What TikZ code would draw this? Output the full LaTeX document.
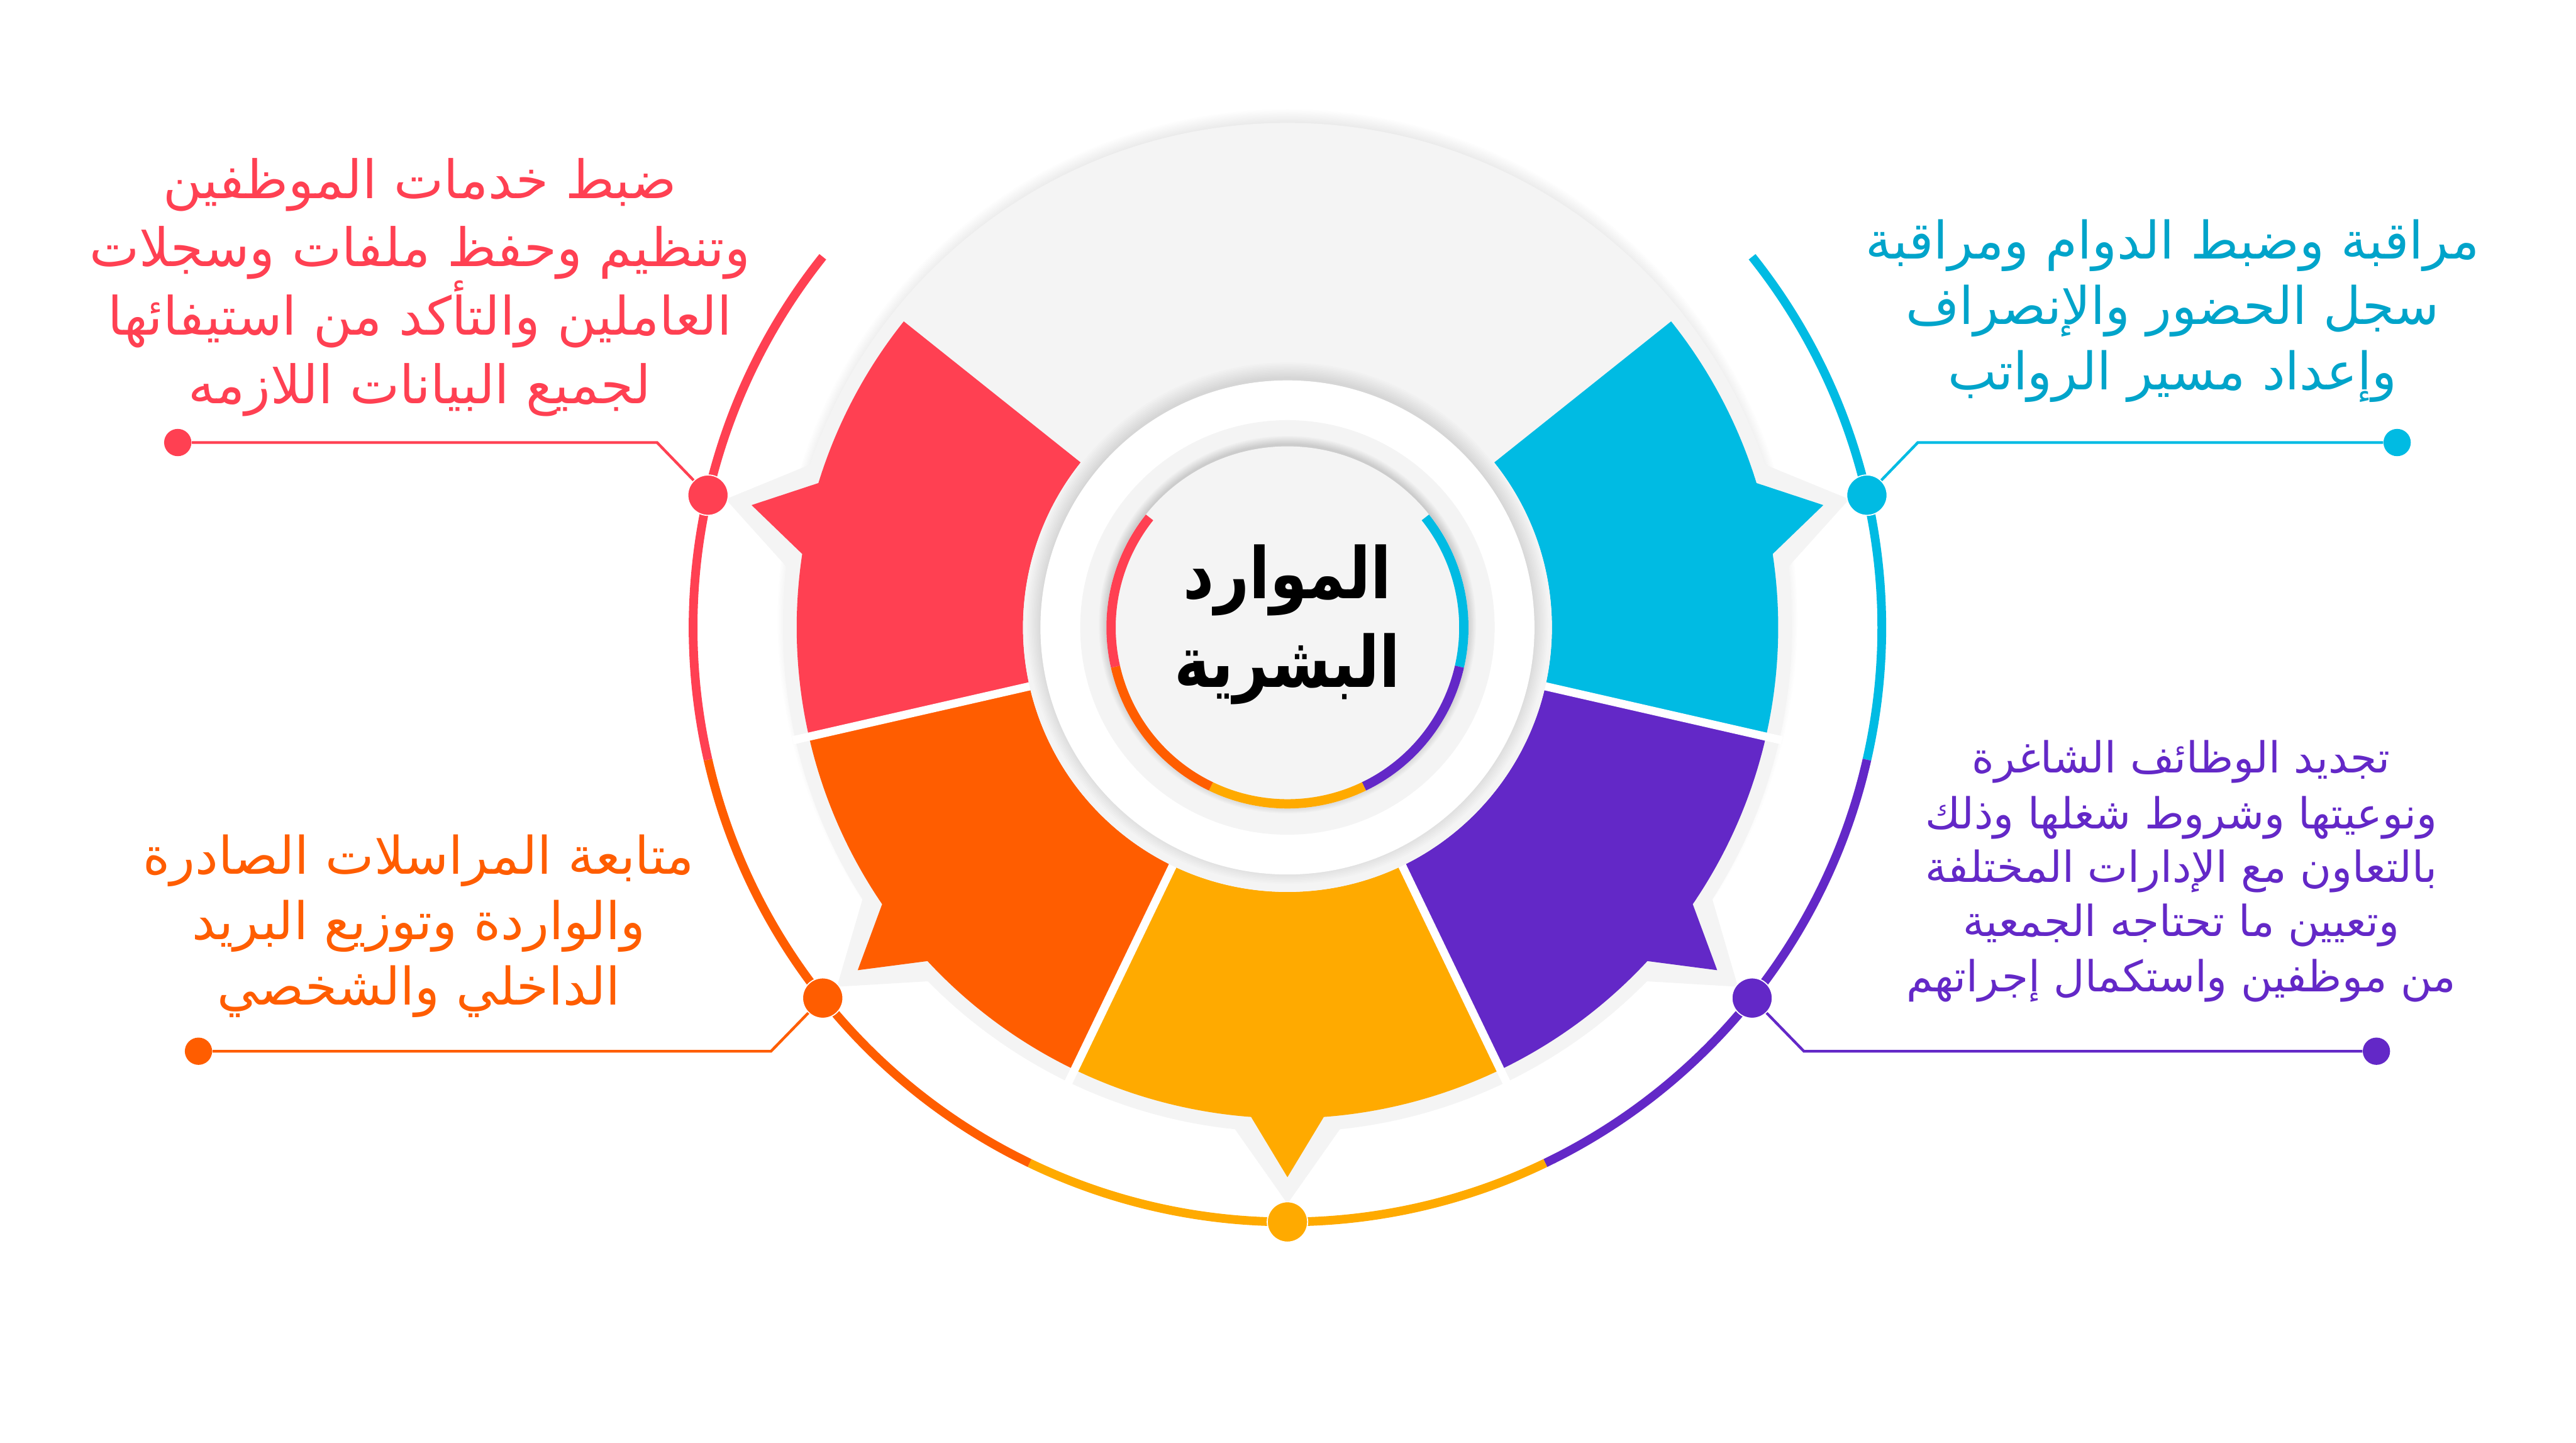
\documentclass[tikz,border=0pt]{standalone}
\usepackage{fontspec}
\TeXXeTstate=1
\newfontfamily\arabicfont[Script=Arabic]{DejaVu Sans}
\newfontfamily\arabictitle[Script=Arabic, FakeStretch=0.85]{DejaVu Sans Bold}
\newcommand{\AR}[1]{\beginR #1\endR}
\definecolor{cred}{HTML}{FF4052}
\definecolor{corange}{HTML}{FF5D00}
\definecolor{cyellow}{HTML}{FFAA00}
\definecolor{cpurple}{HTML}{6328C7}
\definecolor{ccyan}{HTML}{00BBE3}
\definecolor{ccyantext}{HTML}{00A4CA}
\definecolor{cgray}{HTML}{F4F4F4}
\tikzset{
  txt/.style={anchor=base, inner sep=0pt, font=\arabicfont\fontsize{27}{30}\selectfont},
  redtxt/.style={anchor=base, inner sep=0pt, font=\arabicfont\fontsize{27.6}{30}\selectfont},
  smalltxt/.style={anchor=base, inner sep=0pt, font=\arabicfont\fontsize{22.3}{25}\selectfont},
  titletxt/.style={anchor=base, inner sep=0pt, text=black, font=\arabictitle\fontsize{37}{40}\selectfont},
  bigdot/.style={circle, inner sep=0pt, minimum size=0.74cm, draw=white, line width=0.02cm},
  smalldot/.style={circle, inner sep=0pt, minimum size=0.5cm},
  conn/.style={line width=0.05cm},
  outerarc/.style={line width=0.16cm},
  innerarc/.style={line width=0.17cm},
  tailrim/.style={cgray, line width=0.56cm, line join=miter},
  separator/.style={white, line width=0.15cm}
}
\begin{document}
\begin{tikzpicture}
\useasboundingbox (-23.61,-14.946) rectangle (23.63,11.504);
\fill[white] (-23.61,-14.946) rectangle (23.63,11.504);

% outer disc shadow
\foreach \i in {1,...,12} \fill[black,opacity=0.009] (0,0.15) circle ({9.05+0.025*\i});
\fill[cgray] (0,0) circle (9.25);

% gray rims around the tails
\foreach \m in {12.857,-38.571,-90,-141.429,-192.857}
  \draw[tailrim] ({\m-5}:9.0) -- (\m:10.08) -- ({\m+5}:9.0);

% coloured segments
\foreach \a/\b/\m/\c in {-12.857/38.571/12.857/ccyan, -64.286/-12.857/-38.571/cpurple, -115.714/-64.286/-90/cyellow, -167.143/-115.714/-141.429/corange, -218.571/-167.143/-192.857/cred}
  \fill[\c] (\a:4.85) -- (\a:9.0) arc[start angle=\a, end angle={\m-4.25}, radius=9.0]
    -- (\m:10.08) -- ({\m+4.25}:9.0) arc[start angle={\m+4.25}, end angle=\b, radius=9.0]
    -- (\b:4.85) arc[start angle=\b, end angle=\a, radius=4.85] -- cycle;

% separators
\foreach \t in {-12.857,-64.286,-115.714,-167.143}
  \draw[separator] (\t:4.7) -- (\t:9.3);

% middle rings
\fill[cgray] (0,0) circle (4.85);
\foreach \i in {1,...,10} \fill[black,opacity=0.013] (0,0.08) circle ({4.48+0.03*\i});
\fill[white] (0,0) circle (4.53);
\fill[cgray] (0,0) circle (3.8);
\foreach \i in {1,...,8} \fill[black,opacity=0.02] (0,0.05) circle ({3.3+0.02*\i});
\fill[cgray] (0,0) circle (3.32);

% inner coloured arcs
\foreach \a/\b/\c in {-12.857/38.571/ccyan, -64.286/-12.857/cpurple, -115.714/-64.286/cyellow, -167.143/-115.714/corange, -218.571/-167.143/cred}
  \draw[innerarc, \c] (\a:3.235) arc[start angle=\a, end angle=\b, radius=3.235];

% outer coloured arcs
\foreach \a/\b/\c in {-12.857/38.571/ccyan, -64.286/-12.857/cpurple, -115.714/-64.286/cyellow, -167.143/-115.714/corange, -218.571/-167.143/cred}
  \draw[outerarc, \c] (\a:10.9) arc[start angle=\a, end angle=\b, radius=10.9];

% dots on the outer arc
\node[bigdot, fill=ccyan] (dc) at (12.857:10.9) {};
\node[bigdot, fill=cpurple] (dp) at (-38.571:10.9) {};
\node[bigdot, fill=cyellow] (dy) at (-90:10.9) {};
\node[bigdot, fill=corange] (do) at (-141.429:10.9) {};
\node[bigdot, fill=cred] (dr) at (167.143:10.9) {};

% connectors
\coordinate (er) at (-11.56,3.39);
\coordinate (ec) at (11.56,3.39);
\coordinate (ep) at (9.47,-7.77);
\coordinate (eo) at (-9.47,-7.77);
\node[smalldot, fill=cred] (tr) at (-20.35,3.39) {};
\node[smalldot, fill=ccyan] (tc) at (20.35,3.39) {};
\node[smalldot, fill=cpurple] (tp) at (19.97,-7.77) {};
\node[smalldot, fill=corange] (to) at (-19.97,-7.77) {};
\draw[conn, cred] (tr) -- (er) -- (dr);
\draw[conn, ccyan] (tc) -- (ec) -- (dc);
\draw[conn, cpurple] (tp) -- (ep) -- (dp);
\draw[conn, corange] (to) -- (eo) -- (do);

% title
\node[titletxt] (t1) at (0,0.534) {\AR{الموارد}};
\node[titletxt] (t2) at (0,-1.096) {\AR{البشرية}};

% red text
\node[redtxt, text=cred] (r1) at (-15.91,7.864) {\AR{ضبط خدمات الموظفين}};
\node[redtxt, text=cred] (r2) at (-15.91,6.614) {\AR{وتنظيم وحفظ ملفات وسجلات}};
\node[redtxt, text=cred] (r3) at (-15.91,5.364) {\AR{العاملين والتأكد من استيفائها}};
\node[redtxt, text=cred] (r4) at (-15.91,4.104) {\AR{لجميع البيانات اللازمه}};

% cyan text
\node[txt, text=ccyantext] (c1) at (16.23,6.754) {\AR{مراقبة وضبط الدوام ومراقبة}};
\node[txt, text=ccyantext] (c2) at (16.23,5.554) {\AR{سجل الحضور والإنصراف}};
\node[txt, text=ccyantext] (c3) at (16.23,4.359) {\AR{وإعداد مسير الرواتب}};

% purple text
\node[smalltxt, text=cpurple] (p1) at (16.39,-2.666) {\AR{تجديد الوظائف الشاغرة}};
\node[smalltxt, text=cpurple] (p2) at (16.39,-3.686) {\AR{ونوعيتها وشروط شغلها وذلك}};
\node[smalltxt, text=cpurple] (p3) at (16.39,-4.666) {\AR{بالتعاون مع الإدارات المختلفة}};
\node[smalltxt, text=cpurple] (p4) at (16.39,-5.666) {\AR{وتعيين ما تحتاجه الجمعية}};
\node[smalltxt, text=cpurple] (p5) at (16.39,-6.676) {\AR{من موظفين واستكمال إجراتهم}};

% orange text
\node[txt, text=corange] (o1) at (-15.93,-4.526) {\AR{متابعة المراسلات الصادرة}};
\node[txt, text=corange] (o2) at (-15.93,-5.716) {\AR{والواردة وتوزيع البريد}};
\node[txt, text=corange] (o3) at (-15.93,-6.916) {\AR{الداخلي والشخصي}};
\end{tikzpicture}
\end{document}
